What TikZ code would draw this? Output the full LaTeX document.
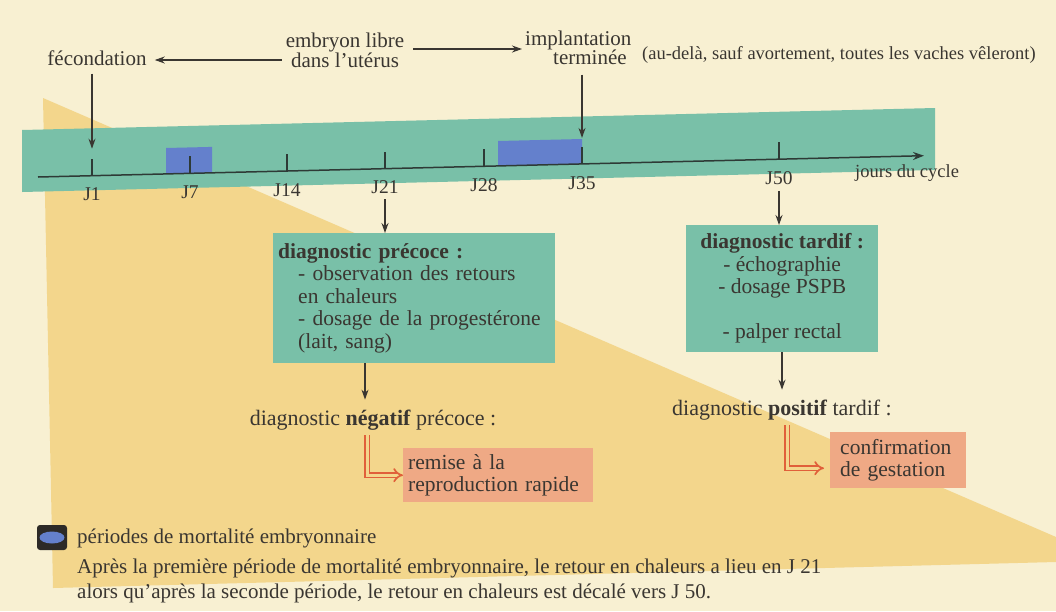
\documentclass[tikz,border=0pt]{standalone}
\usepackage{fontspec}
\setmainfont{Liberation Serif}
\usetikzlibrary{arrows.meta,calc}
\definecolor{cream}{HTML}{F8F0D2}
\definecolor{ochre}{HTML}{F3D68C}
\definecolor{bandteal}{HTML}{79C0A8}
\definecolor{blueper}{HTML}{6480CC}
\definecolor{salmon}{HTML}{EFA985}
\definecolor{redarrow}{HTML}{E0603A}
\definecolor{ink}{HTML}{3A3631}
\definecolor{axisink}{HTML}{2E3A36}
\definecolor{legdark}{HTML}{2D2A27}
\begin{document}
\begin{tikzpicture}[x=1pt,y=-1pt,
  every node/.style={text=ink, inner sep=0pt},
  lbl/.style={font=\fontsize{21}{17}\selectfont, align=center},
  parfont/.style={font=\fontsize{18.5}{18.5}\selectfont},
  difont/.style={font=\fontsize{22}{22}\selectfont},
  legfont/.style={font=\fontsize{21}{21}\selectfont},
  jl/.style={font=\fontsize{19.5}{19.5}\selectfont},
  arr/.style={draw=ink, line width=1.3pt, -{Stealth[length=10pt,width=7pt]}},
  redarr/.style={draw=redarrow, line width=1.7pt, double=ochre, double distance=3pt, -{Implies[scale=1.4]}},
  tealbox/.style={fill=bandteal, inner xsep=5pt, inner ysep=0pt, font=\fontsize{21.5}{22.5}\selectfont},
  salbox/.style={fill=salmon, inner ysep=0pt, font=\fontsize{21.5}{21.5}\selectfont, align=left},
  tickline/.style={draw=axisink, line width=1.3pt}
]
\useasboundingbox (0,0) rectangle (1056,611);
\fill[cream] (0,0) rectangle (1056,611);
% yellow triangle
\fill[ochre] (43,98) -- (1056,537) -- (1056,562) -- (53,588) -- cycle;
% teal band
\fill[bandteal] (22,130) -- (935,108) -- (935,170) -- (22,192) -- cycle;
% embryonic mortality periods
\fill[blueper] (166,173.9) -- (212,172.8) -- (212,146.9) -- (166,148) -- cycle;
\fill[blueper] (498,166.0) -- (582,163.9) -- (582,139) -- (498,141) -- cycle;
% axis
\coordinate (ax0) at (38,177);
\coordinate (ax1) at (924,155.7);
\draw[draw=axisink, line width=1.5pt, -{Stealth[length=11pt,width=8pt]}] (ax0) -- (ax1);
\coordinate (t1) at (92,175.7);
\coordinate (t7) at (190,173.4);
\coordinate (t14) at (287,171.0);
\coordinate (t21) at (385,168.7);
\coordinate (t28) at (484,166.3);
\coordinate (t35) at (582,163.9);
\coordinate (t50) at (779,159.2);
\foreach \t in {t1,t7,t14,t21,t28,t35,t50} \draw[tickline] (\t) -- ++(0,-17);
\node[jl, anchor=north] (j1) at ([yshift=-12pt]t1) {J1};
\node[jl, anchor=north] (j7) at ([yshift=-12pt]t7) {J7};
\node[jl, anchor=north] (j14) at ([yshift=-12pt]t14) {J14};
\node[jl, anchor=north] (j21) at ([yshift=-12pt]t21) {J21};
\node[jl, anchor=north] (j28) at ([yshift=-12pt]t28) {J28};
\node[jl, anchor=north] (j35) at ([yshift=-12pt]t35) {J35};
\node[jl, anchor=north] (j50) at ([yshift=-12pt]t50) {J50};
\node[parfont, anchor=west] (jours) at (855,173) {jours du cycle};
% top labels
\node[lbl] (fec) at (97,58) {fécondation};
\node[lbl] (emb) at (345,50) {embryon libre\\dans l'utérus};
\node[lbl, anchor=west] (imp) at (525,40) {implantation};
\node[lbl, anchor=west] (term) at (553,57) {terminée};
\node[parfont, anchor=west] (paren) at (642,55) {(au-delà, sauf avortement, toutes les vaches vêleront)};
\draw[arr, shorten <=4pt, shorten >=8pt] ([yshift=-10pt]emb.west) -- ([yshift=-10pt]emb.west -| fec.east);
\draw[arr, shorten <=9pt, shorten >=3pt] ([yshift=1pt]emb.east) -- ([yshift=1pt]emb.east -| imp.west);
\draw[arr, shorten <=8pt] (fec.south -| t1) -- ([yshift=27pt]t1);
\draw[arr, shorten <=10pt] (term.south -| t35) -- ([yshift=26pt]t35);
% boxes
\node[tealbox, anchor=north west, minimum width=282pt, minimum height=130pt, text width=272pt, align=left] (pre) at (273,233)
  {\textbf{diagnostic précoce :}\\\hspace*{20pt}- observation des retours\\\hspace*{20pt}en chaleurs\\\hspace*{20pt}- dosage de la progestérone\\\hspace*{20pt}(lait, sang)};
\node[tealbox, anchor=north west, minimum width=192pt, minimum height=127pt, align=center] (tar) at (686,225)
  {\textbf{diagnostic tardif :}\\- échographie\\- dosage PSPB\\[22.5pt]- palper rectal};
\draw[arr, shorten <=5pt] (j21.south) -- (j21.south |- pre.north);
\draw[arr, shorten <=6pt] (j50.south) -- (j50.south |- tar.north);
\node[difont] (neg) at (373,420) {diagnostic \textbf{négatif} précoce :};
\node[difont] (pos) at (782,410) {diagnostic \textbf{positif} tardif :};
\draw[arr, shorten >=10pt] ([xshift=-8pt]neg.north |- pre.south) -- ([xshift=-8pt]neg.north);
\draw[arr, shorten >=10pt] (pos.north |- tar.south) -- (pos.north);
\node[salbox, anchor=north west, minimum width=190pt, minimum height=54pt, text width=180pt, inner xsep=5pt] (remise) at (403,448)
  {remise à la\\reproduction rapide};
\node[salbox, anchor=north west, minimum width=136pt, minimum height=56pt, text width=116pt, inner xsep=10pt] (conf) at (830,432)
  {confirmation\\de gestation};
\draw[redarr, shorten <=5pt] ([xshift=-6pt]neg.south) |- (remise.west);
\draw[redarr, shorten <=5pt, shorten >=6pt] ([xshift=5pt]pos.south) |- ([yshift=-8pt]conf.west);
% legend
\fill[legdark, rounded corners=3pt] (37,525) rectangle (67,550);
\fill[blueper] (52,537.5) ellipse (12.5pt and 6pt);
\node[legfont, anchor=west] (legt) at (77,538) {périodes de mortalité embryonnaire};
\node[legfont, anchor=west] (n1) at (77,568) {Après la première période de mortalité embryonnaire, le retour en chaleurs a lieu en J 21};
\node[legfont, anchor=west] (n2) at (77,593) {alors qu'après la seconde période, le retour en chaleurs est décalé vers J 50.};
\end{tikzpicture}
\end{document}
